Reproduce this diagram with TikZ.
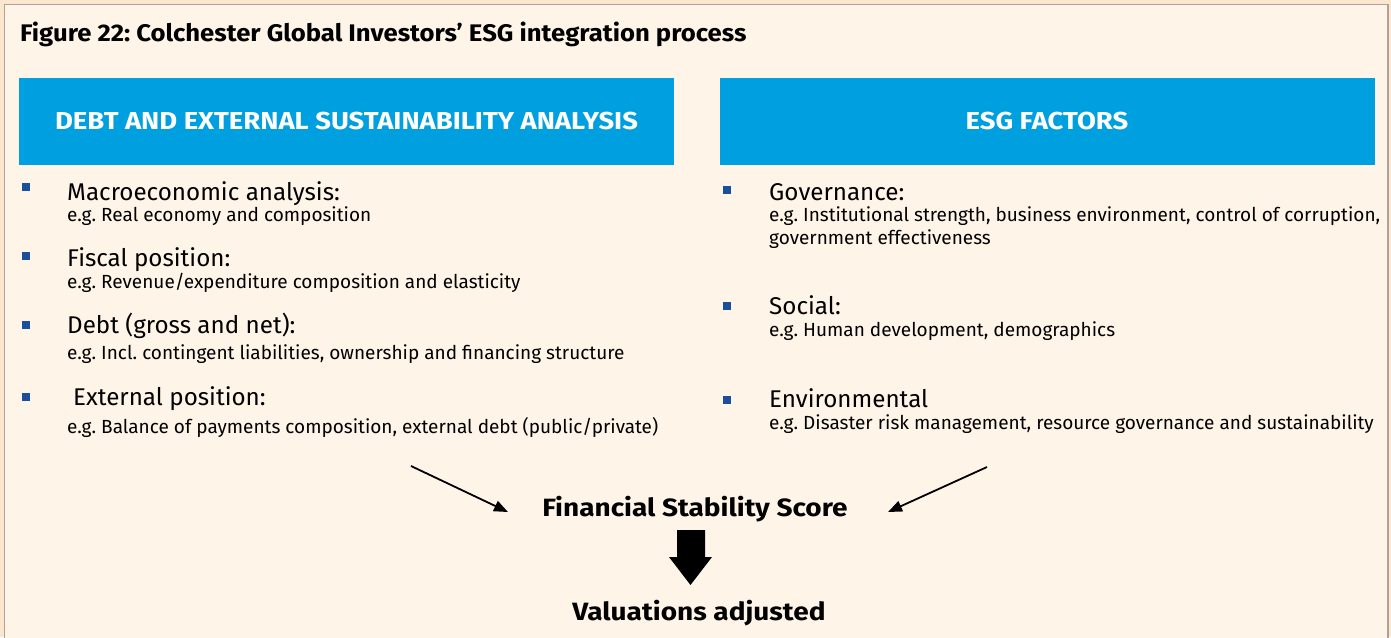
\documentclass[tikz,border=0pt]{standalone}
\usepackage{fontspec}
\setmainfont{Fira Sans}
\newfontfamily\titlefont[FakeStretch=1.07]{Fira Sans}
\newfontfamily\widefont[FakeStretch=1.12]{Fira Sans}
\usetikzlibrary{arrows.meta}
\frenchspacing
\definecolor{outerbg}{HTML}{FDE6CE}
\definecolor{innerbg}{HTML}{FFF4E8}
\definecolor{frame}{HTML}{ACA49C}
\definecolor{headblue}{HTML}{009FE0}
\definecolor{bulletblue}{HTML}{1B4F9C}
\tikzset{
  header/.style={fill=headblue, draw=none, minimum width=655pt, minimum height=87pt, inner sep=0pt,
    text=white, font=\widefont\fontsize{24.5}{28}\selectfont\bfseries},
  heading/.style={anchor=base west, inner sep=0pt, font=\fontsize{24.2}{28}\selectfont},
  sub/.style={anchor=base west, inner sep=0pt, font=\fontsize{19}{23}\selectfont, align=left},
  bul/.style={fill=bulletblue, minimum size=7.5pt, inner sep=0pt},
  thin arrow/.style={-{Triangle[length=14pt,width=11pt]}, line width=1.8pt},
  result/.style={inner sep=0pt, font=\widefont\fontsize{25}{28}\selectfont\bfseries},
}
\begin{document}
\frenchspacing
\begin{tikzpicture}[x=1pt,y=-1pt]
\useasboundingbox (0,0) rectangle (1391,637);
\fill[outerbg] (0,0) rectangle (1391,637);
\fill[innerbg] (4.5,4.5) rectangle (1388,640);
\draw[frame, line width=1.4pt] (4.5,640) -- (4.5,4.5) -- (1388,4.5) -- (1388,640);

\node[anchor=base west, inner sep=0pt, font=\titlefont\fontsize{24}{28}\selectfont\bfseries] (title) at (20,41.5)
  {Figure 22: Colchester Global Investors’ ESG integration process};

\node[header] (h1) at (346.5,121.5) {DEBT AND EXTERNAL SUSTAINABILITY ANALYSIS};
\node[header] (h2) at (1047,121.5) {ESG FACTORS};

% left column
\node[bul] (b1) at (26,187) {};
\node[heading] (l1) at (67,200) {Macroeconomic analysis:};
\node[sub] (l1s) at (67,221.5) {e.g. Real economy and composition};
\node[bul] (b2) at (26,256) {};
\node[heading] (l2) at (67,266) {Fiscal position:};
\node[sub] (l2s) at (67,288) {e.g. Revenue/expenditure composition and elasticity};
\node[bul] (b3) at (26,325) {};
\node[heading] (l3) at (67,333) {Debt (gross and net):};
\node[sub] (l3s) at (67,359) {e.g. Incl. contingent liabilities, ownership and financing structure};
\node[bul] (b4) at (26,397) {};
\node[heading] (l4) at (73,405) {External position:};
\node[sub] (l4s) at (67,433) {e.g. Balance of payments composition, external debt (public/private)};

% right column
\node[bul] (r1b) at (727,190) {};
\node[heading] (r1) at (769,200) {Governance:};
\node[sub] (r1s) at (769,221.5) {e.g. Institutional strength, business environment, control of corruption,};
\node[sub] (r1t) at (769,244) {government effectiveness};
\node[bul] (r2b) at (727,306) {};
\node[heading] (r2) at (769,314) {Social:};
\node[sub] (r2s) at (769,336) {e.g. Human development, demographics};
\node[bul] (r3b) at (727,400) {};
\node[heading] (r3) at (769,407) {Environmental};
\node[sub] (r3s) at (769,429) {e.g. Disaster risk management, resource governance and sustainability};

% result
\node[result, anchor=base] (fss) at (695,516.5) {Financial Stability Score};
\node[result, anchor=base] (val) at (699,620) {Valuations adjusted};
\coordinate (la) at (411,466);
\coordinate (lt) at (508,512);
\coordinate (ra) at (987,467);
\coordinate (rt) at (888,512);
\draw[thin arrow] (la) -- (lt);
\draw[thin arrow] (ra) -- (rt);
\fill[black] (677,530) -- (705,530) -- (705,557) -- (712,557) -- (690.5,585) -- (669,557) -- (677,557) -- cycle;
\end{tikzpicture}
\end{document}
